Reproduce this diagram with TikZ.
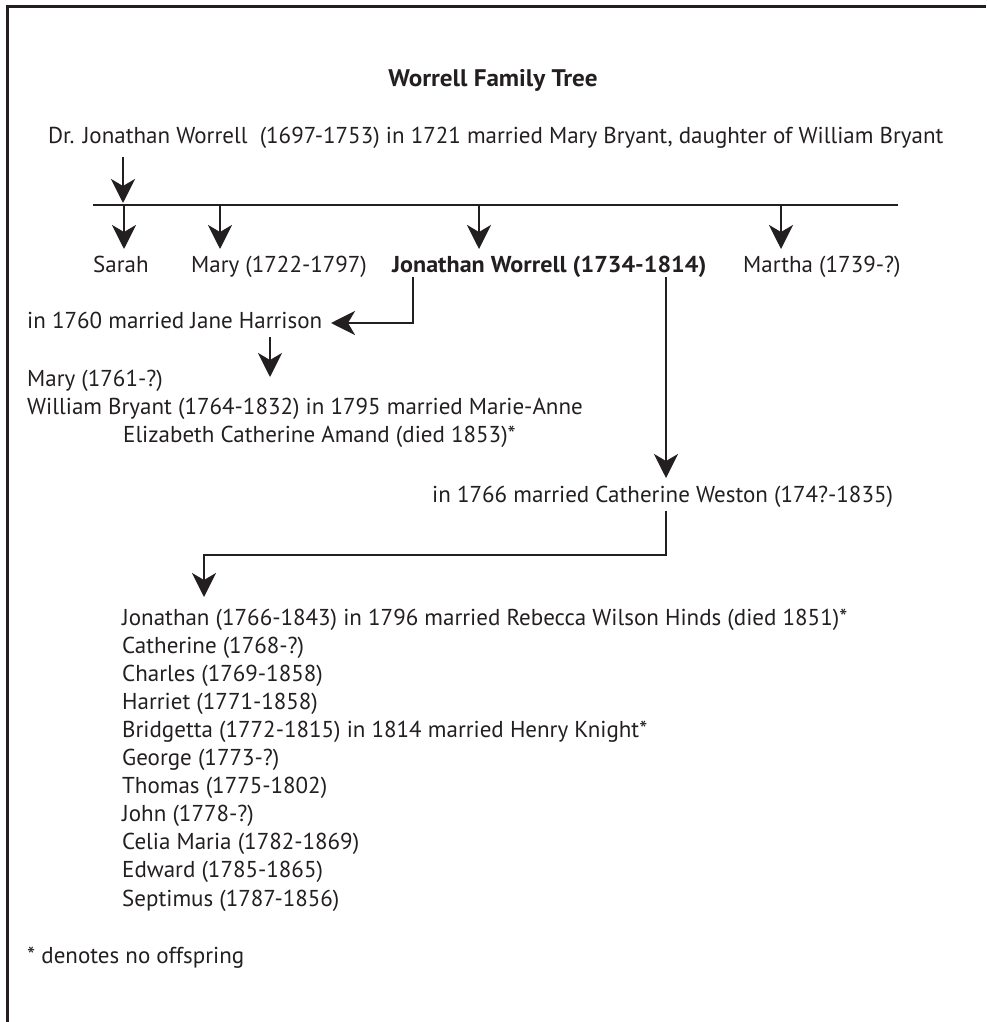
\documentclass[tikz,border=0pt]{standalone}
\usepackage{fontspec}
\setmainfont{PT Sans}[BoldFeatures={FakeStretch=1.047}]
\usetikzlibrary{arrows.meta}
\definecolor{ink}{HTML}{231F20}
\begin{document}
\begin{tikzpicture}[x=1pt,y=-1pt,
  txt/.style={inner sep=0pt, anchor=base west, text=ink, font=\fontsize{23}{27}\selectfont},
  bold/.style={txt, font=\fontsize{23}{27}\selectfont\bfseries},
  arr/.style={draw=ink, line width=2.6pt, -{Stealth[length=24pt,width=24pt,inset=7pt]}},
  ln/.style={draw=ink, line width=2.6pt},
  frame/.style={draw=ink, line width=3pt}]
\useasboundingbox (0,0) rectangle (986,1022);
\draw[frame] (7,1022) -- (7,7) -- (986,7);

\node[bold, anchor=base, font=\fontsize{24}{27}\selectfont\bfseries] (title) at (493,87) {Worrell Family Tree};
\node[txt] (dr) at (48,143) {Dr. Jonathan Worrell\ \ (1697-1753) in 1721 married Mary Bryant, daughter of William Bryant};

\coordinate (drA) at (123,157);
\coordinate (drB) at (123,203);
\draw[arr] (drA) -- (drB);
\coordinate (barL) at (93,205);
\coordinate (barR) at (898,205);
\draw[ln] (barL) -- (barR);

\node[txt] (sarah) at (93,272) {Sarah};
\node[txt] (mary) at (191,272) {Mary (1722-1797)};
\node[bold] (jon) at (392,272) {Jonathan Worrell (1734-1814)};
\node[txt] (martha) at (743,272) {Martha (1739-?)};

\foreach \n/\x in {s/124, m/220, j/479, t/781}{
  \coordinate (\n1) at (\x,205);
  \coordinate (\n2) at (\x,249);
  \draw[arr] (\n1) -- (\n2);
}

\node[txt] (jane) at (27,328) {in 1760 married Jane Harrison};
\coordinate (jL1) at (413,277);
\coordinate (jL2) at (331,323);
\draw[arr] (jL1) |- (jL2);
\coordinate (hA) at (270,337);
\coordinate (hB) at (270,377);
\draw[arr] (hA) -- (hB);

\node[txt] (mary2) at (27,386) {Mary (1761-?)};
\node[txt] (will) at (27,414) {William Bryant (1764-1832) in 1795 married Marie-Anne};
\node[txt] (eliz) at (123,442) {Elizabeth Catherine Amand (died 1853)*};

\coordinate (jR1) at (666,277);
\coordinate (jR2) at (666,478);
\draw[arr] (jR1) -- (jR2);
\node[txt] (cath) at (432,502) {in 1766 married Catherine Weston (174?-1835)};

\coordinate (cA) at (666,511);
\coordinate (cB) at (204,555);
\coordinate (cC) at (204,597);
\draw[arr] (cA) |- (cB) -- (cC);

\foreach \t [count=\i from 0] in {
  {Jonathan (1766-1843) in 1796 married Rebecca Wilson Hinds (died 1851)*},
  {Catherine (1768-?)},
  {Charles (1769-1858)},
  {Harriet (1771-1858)},
  {Bridgetta (1772-1815) in 1814 married Henry Knight*},
  {George (1773-?)},
  {Thomas (1775-1802)},
  {John (1778-?)},
  {Celia Maria (1782-1869)},
  {Edward (1785-1865)},
  {Septimus (1787-1856)}}{
  \node[txt] (kid\i) at (122,625+28.1*\i) {\t};
}

\node[txt] (note) at (27,963) {* denotes no offspring};
\end{tikzpicture}
\end{document}
